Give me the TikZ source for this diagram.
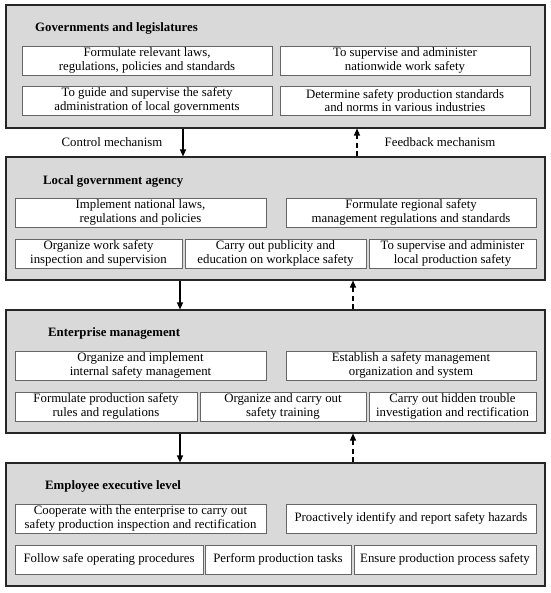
\documentclass[tikz,border=0pt]{standalone}
\usepackage{fontspec}
\setmainfont{Liberation Serif}
\usetikzlibrary{arrows.meta}
\tikzset{
  panel/.style={draw=black!85, line width=1.1pt, fill=gray!30, inner sep=0pt},
  itembox/.style={draw=black!60, line width=0.8pt, fill=white, inner sep=0pt, align=center,
    font=\fontsize{12.8}{13.8}\selectfont},
  ttl/.style={anchor=west, inner sep=0pt, font=\fontsize{12.8}{14}\selectfont\bfseries},
  lbl/.style={inner sep=0pt, font=\fontsize{12.8}{14}\selectfont},
  ctrl/.style={-{Triangle[length=7pt,width=6pt]}, line width=1.1pt, black},
  fdbk/.style={-{Triangle[length=7pt,width=6pt]}, line width=1.1pt, black, dash pattern=on 5pt off 3.5pt},
}
\newcommand{\pbox}[6]{% name, x1, y1, x2, y2, text
  \node[itembox, minimum width={(#4-#2)*1pt}, minimum height={(#5-#3)*1pt}] (#1) at ({(#2+#4)/2},{(#3+#5)/2}) {#6};}
\newcommand{\ppanel}[5]{% name x1 y1 x2 y2
  \node[panel, minimum width={(#4-#2)*1pt}, minimum height={(#5-#3)*1pt}] (#1) at ({(#2+#4)/2},{(#3+#5)/2}) {};}
\begin{document}
\begin{tikzpicture}[x=1pt,y=-1pt]
\useasboundingbox (0,0) rectangle (550,593);
% panel 1
\ppanel{p1}{6}{5}{545}{128}
\node[ttl] (t1) at (35,28) {Governments and legislatures};
\pbox{a1}{22}{46}{272}{75}{Formulate relevant laws,\\regulations, policies and standards}
\pbox{a2}{280}{46}{530}{75}{To supervise and administer\\nationwide work safety}
\pbox{a3}{22}{86}{272}{115}{To guide and supervise the safety\\administration of local governments}
\pbox{a4}{280}{86}{530}{115}{Determine safety production standards\\and norms in various industries}
% panel 2
\ppanel{p2}{6}{157}{545}{280}
\node[ttl] (t2) at (43,181) {Local government agency};
\pbox{b1}{15}{198}{266}{227}{Implement national laws,\\regulations and policies}
\pbox{b2}{286}{198}{536}{227}{Formulate regional safety\\management regulations and standards}
\pbox{b3}{15}{239}{182}{268}{Organize work safety\\inspection and supervision}
\pbox{b4}{185}{239}{366}{268}{Carry out publicity and\\education on workplace safety}
\pbox{b5}{369}{239}{536}{268}{To supervise and administer\\local production safety}
% panel 3
\ppanel{p3}{6}{310}{545}{433}
\node[ttl] (t3) at (48,333) {Enterprise management};
\pbox{c1}{15}{351}{266}{380}{Organize and implement\\internal safety management}
\pbox{c2}{286}{351}{536}{380}{Establish a safety management\\organization and system}
\pbox{c3}{15}{392}{197}{421}{Formulate production safety\\rules and regulations}
\pbox{c4}{200}{392}{366}{421}{Organize and carry out\\safety training}
\pbox{c5}{369}{392}{536}{421}{Carry out hidden trouble\\investigation and rectification}
% panel 4
\ppanel{p4}{6}{463}{545}{586}
\node[ttl] (t4) at (45,486) {Employee executive level};
\pbox{d1}{15}{504}{266}{533}{Cooperate with the enterprise to carry out\\safety production inspection and rectification}
\pbox{d2}{286}{504}{536}{533}{Proactively identify and report safety hazards}
\pbox{d3}{15}{545}{203}{574}{Follow safe operating procedures}
\pbox{d4}{205}{545}{351}{574}{Perform production tasks}
\pbox{d5}{354}{545}{536}{574}{Ensure production process safety}
% arrows
\coordinate (s1) at (183,0);
\coordinate (f1) at (357,0);
\coordinate (s2) at (180,0);
\coordinate (f2) at (353,0);
\draw[ctrl] (p1.south -| s1) -- (p2.north -| s1);
\draw[fdbk] (p2.north -| f1) -- (p1.south -| f1);
\draw[ctrl] (p2.south -| s2) -- (p3.north -| s2);
\draw[fdbk] (p3.north -| f2) -- (p2.south -| f2);
\draw[ctrl] (p3.south -| s2) -- (p4.north -| s2);
\draw[fdbk] (p4.north -| f2) -- (p3.south -| f2);
\node[lbl] (l1) at (112,142) {Control mechanism};
\node[lbl] (l2) at (440,142) {Feedback mechanism};
\end{tikzpicture}
\end{document}
